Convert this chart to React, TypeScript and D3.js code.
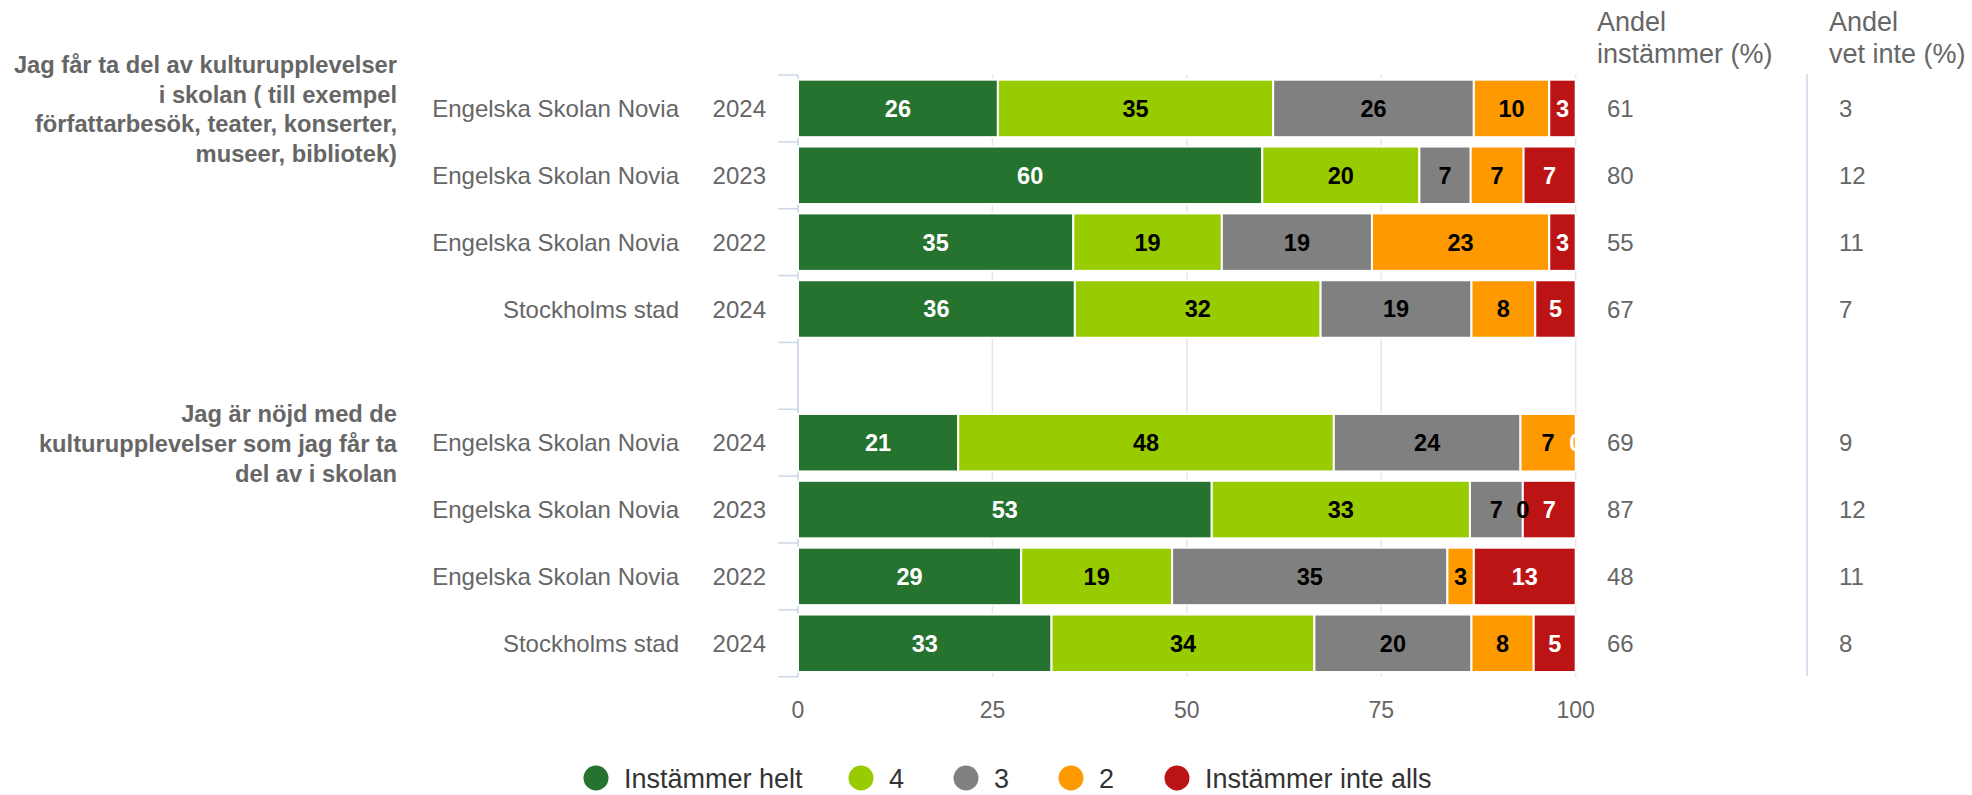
import React from "react";
import * as d3 from "d3";

const W = 1972;
const H = 795;

const groupTitles: string[][] = [
  ["Jag får ta del av kulturupplevelser", "i skolan ( till exempel", "författarbesök, teater, konserter,", "museer, bibliotek)"],
  ["Jag är nöjd med de", "kulturupplevelser som jag får ta", "del av i skolan"],
];
const units = ["Engelska Skolan Novia", "Engelska Skolan Novia", "Engelska Skolan Novia", "Stockholms stad",
  "Engelska Skolan Novia", "Engelska Skolan Novia", "Engelska Skolan Novia", "Stockholms stad"];
const years = ["2024", "2023", "2022", "2024", "2024", "2023", "2022", "2024"];
const slots = [0, 1, 2, 3, 5, 6, 7, 8];

const seriesNames = ["Instämmer helt", "4", "3", "2", "Instämmer inte alls"];
const seriesColors = ["#267330", "#99cc00", "#808080", "#ff9900", "#bc1414"];
const labelColors = ["#ffffff", "#000000", "#000000", "#000000", "#ffffff"];

const instammerHelt = [25.7, 59.7, 35.4, 35.6, 20.6, 53.2, 28.7, 32.6];
const fyra = [35.4, 20.2, 19.1, 31.6, 48.3, 33.2, 19.4, 33.8];
const tre = [25.8, 6.6, 19.3, 19.4, 24.0, 6.8, 35.4, 20.2];
const tva = [9.7, 6.8, 22.8, 8.2, 7.1, 0, 3.4, 8.0];
const inteAlls = [3.4, 6.7, 3.4, 5.2, 0, 6.8, 13.1, 5.4];

const andelInstammer = [61, 80, 55, 67, 69, 87, 48, 66];
const andelVetInte = [3, 12, 11, 7, 9, 12, 11, 8];
const xTicks = [0, 25, 50, 75, 100];

const FONT = "'Liberation Sans', Arial, Helvetica, sans-serif";

export default function App() {
  const keys = ["s0", "s1", "s2", "s3", "s4"];
  const seriesVals = [instammerHelt, fyra, tre, tva, inteAlls];
  const table = slots.map((slot, i) => {
    const o: any = { slot, i };
    keys.forEach((k, j) => (o[k] = seriesVals[j][i]));
    return o;
  });
  const stacked = d3.stack<any>().keys(keys)(table);

  const x = d3.scaleLinear().domain([0, 100]).range([798, 1575.7]);
  const y = d3
    .scaleBand<number>()
    .domain(d3.range(9))
    .range([75, 676.7])
    .paddingInner(0.14)
    .paddingOuter(0.07);
  const step = y.step();
  const top = 75;
  const bottom = 676.7;
  const boundaries = d3.range(10).map((k) => top + k * step);
  const center = (slot: number) => (y(slot) as number) + y.bandwidth() / 2;

  const groupFirstSlot = [0, 5];
  const lineH = 29.8;

  const legendCx = [596, 861, 966, 1071, 1177];

  return (
    <svg
      width={W}
      height={H}
      style={{ position: "absolute", left: 0, top: 0, background: "#fff" }}
      fontFamily={FONT}
    >
      <defs>
        <clipPath id="plotClip">
          <rect x={x(0)} y={top} width={x(100) - x(0)} height={bottom - top} />
        </clipPath>
      </defs>

      {/* grid lines */}
      {xTicks.map((t) => (
        <line key={"g" + t} x1={x(t)} x2={x(t)} y1={top} y2={bottom} stroke="#e6e6e6" strokeWidth={1.5} />
      ))}

      {/* y axis line & ticks */}
      <line x1={x(0)} x2={x(0)} y1={top} y2={bottom} stroke="#ccd6eb" strokeWidth={1.5} />
      {boundaries.map((b, k) => (
        <line key={"t" + k} x1={778} x2={x(0)} y1={b} y2={b} stroke="#ccd6eb" strokeWidth={1.5} />
      ))}

      {/* bars */}
      {stacked.map((s, j) => (
        <g key={s.key} fill={seriesColors[j]}>
          {s.map((d: any, i: number) => (
            <rect
              key={i}
              x={x(d[0])}
              y={y(d.data.slot)}
              width={Math.max(0, x(d[1]) - x(d[0]))}
              height={y.bandwidth()}
              stroke="#ffffff"
              strokeWidth={2}
            />
          ))}
        </g>
      ))}

      {/* data labels */}
      <g clipPath="url(#plotClip)">
        {stacked.map((s, j) => (
          <g key={"l" + s.key} fill={labelColors[j]} fontSize={23.5} fontWeight="bold" textAnchor="middle">
            {s.map((d: any, i: number) => (
              <text key={i} x={(x(d[0]) + x(d[1])) / 2} y={center(d.data.slot)} dy="0.36em">
                {Math.round(d[1] - d[0])}
              </text>
            ))}
          </g>
        ))}
      </g>

      {/* group titles */}
      {groupTitles.map((lines, g) => {
        const c = center(groupFirstSlot[g]) + 9;
        const first = c - ((lines.length - 1) / 2) * lineH;
        return (
          <text key={"gt" + g} fill="#666666" fontSize={23.7} fontWeight="bold" textAnchor="end">
            {lines.map((l, k) => (
              <tspan key={k} x={397} y={first + k * lineH}>
                {l}
              </tspan>
            ))}
          </text>
        );
      })}

      {/* category labels */}
      {slots.map((slot, i) => (
        <g key={"c" + i} fill="#666666" fontSize={24}>
          <text x={679} y={center(slot)} dy="0.36em" textAnchor="end">
            {units[i]}
          </text>
          <text x={766} y={center(slot)} dy="0.36em" textAnchor="end">
            {years[i]}
          </text>
          <text x={1607} y={center(slot)} dy="0.36em">
            {andelInstammer[i]}
          </text>
          <text x={1839} y={center(slot)} dy="0.36em">
            {andelVetInte[i]}
          </text>
        </g>
      ))}

      {/* right column headers */}
      <g fill="#666666" fontSize={27}>
        <text x={1597} y={31}>Andel</text>
        <text x={1597} y={63}>instämmer (%)</text>
        <text x={1829} y={31}>Andel</text>
        <text x={1829} y={63}>vet inte (%)</text>
      </g>
      <line x1={1807} x2={1807} y1={74} y2={676} stroke="#ccd6eb" strokeWidth={1.5} />

      {/* x axis labels */}
      {xTicks.map((t) => (
        <text key={"x" + t} x={x(t)} y={718} fill="#666666" fontSize={23} textAnchor="middle">
          {t}
        </text>
      ))}

      {/* legend */}
      {seriesNames.map((n, j) => (
        <g key={"lg" + j}>
          <circle cx={legendCx[j]} cy={778} r={12.5} fill={seriesColors[j]} />
          <text x={legendCx[j] + 28} y={778} dy="0.36em" fill="#333333" fontSize={27}>
            {n}
          </text>
        </g>
      ))}
    </svg>
  );
}
